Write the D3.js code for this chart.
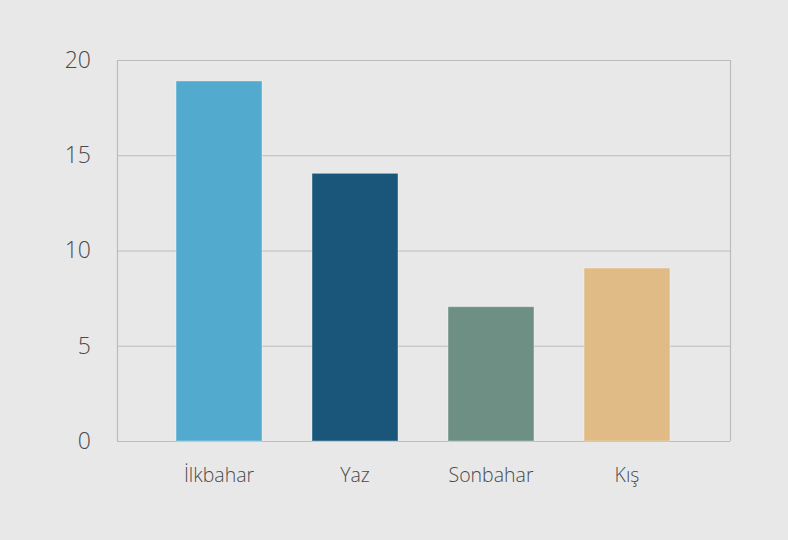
<!DOCTYPE html>
<html>
<head>
<meta charset="utf-8">
<script src="https://cdn.jsdelivr.net/npm/d3@7"></script>
<style>
  html, body { margin: 0; padding: 0; background: #e8e8e8; }
  svg { display: block; }
  text { font-family: "Open Sans", sans-serif; font-weight: 300; fill: #4a4a4a; }
</style>
</head>
<body>
<svg width="788" height="540"></svg>
<script>
var seasons = ["İlkbahar", "Yaz", "Sonbahar", "Kış"];
var values = [18.9, 14.05, 7.05, 9.08];
var colors = ["#52abce", "#1a5679", "#6e8f83", "#e0bb86"];
var yTicks = [0, 5, 10, 15, 20];

var svg = d3.select("svg"),
    margin = {top: 60, right: 58, bottom: 99, left: 117},
    width = +svg.attr("width") - margin.left - margin.right,
    height = +svg.attr("height") - margin.top - margin.bottom,
    g = svg.append("g").attr("transform", "translate(" + margin.left + "," + margin.top + ")");

var x = d3.scaleBand().domain(seasons).range([34, width - 35]).paddingInner(0.368).paddingOuter(0.184);
var y = d3.scaleLinear().domain([0, 20]).range([height, 0]);

// grid lines
g.selectAll(".grid")
  .data(yTicks)
  .enter().append("line")
    .attr("x1", 0).attr("x2", width)
    .attr("y1", function(d) { return y(d) + 0.5; })
    .attr("y2", function(d) { return y(d) + 0.5; })
    .style("stroke", "#bcbcbc")
    .style("stroke-width", 1.2);

// side borders
[0, width].forEach(function(px) {
  g.append("line")
    .attr("x1", px + 0.5).attr("x2", px + 0.5)
    .attr("y1", 0).attr("y2", height)
    .style("stroke", "#bcbcbc")
    .style("stroke-width", 1.2);
});

g.selectAll(".bar")
  .data(seasons)
  .enter().append("rect")
    .attr("x", function(d) { return x(d); })
    .attr("width", x.bandwidth())
    .attr("y", function(d, i) { return y(values[i]); })
    .attr("height", function(d, i) { return height - y(values[i]); })
    .style("fill", function(d, i) { return colors[i]; })
    .style("stroke", "rgba(255,255,255,0.35)")
    .style("stroke-width", 1);

var yAxis = g.append("g")
    .call(d3.axisLeft(y).tickValues(yTicks).tickSize(0).tickPadding(26));
yAxis.select(".domain").remove();
yAxis.selectAll("text")
    .attr("fill", null)
    .style("font-family", "'Open Sans', sans-serif")
    .style("font-weight", 300)
    .style("font-size", "23px")
    .style("fill", "#4a4a4a");

var xAxis = g.append("g")
    .attr("transform", "translate(0," + height + ")")
    .call(d3.axisBottom(x).tickSize(0).tickPadding(27));
xAxis.select(".domain").remove();
xAxis.selectAll("text")
    .attr("fill", null)
    .style("font-family", "'Open Sans', sans-serif")
    .style("font-weight", 300)
    .style("font-size", "19.5px")
    .style("fill", "#4a4a4a");
</script>
</body>
</html>
